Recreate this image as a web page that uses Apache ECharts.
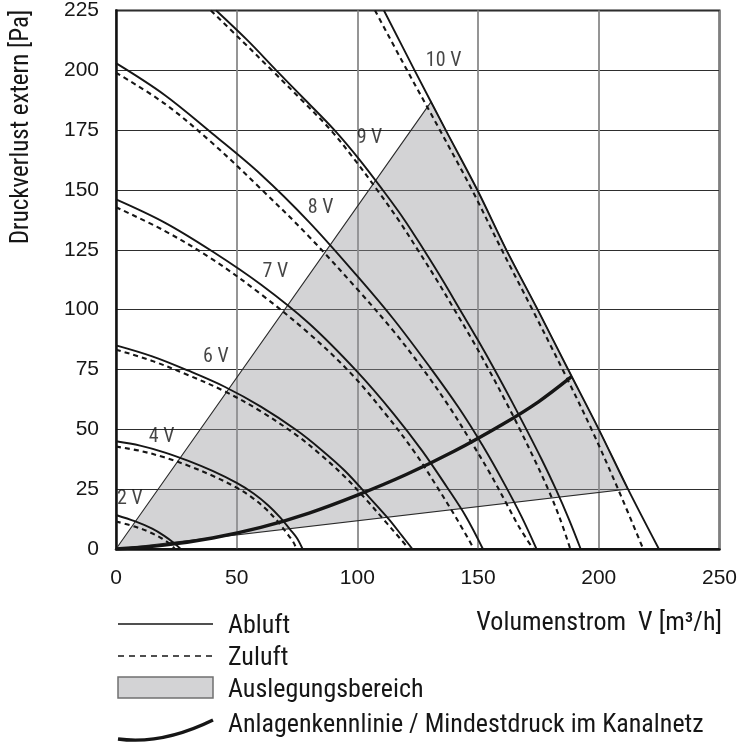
<!DOCTYPE html>
<html>
<head>
<meta charset="utf-8">
<script src="https://cdn.jsdelivr.net/npm/echarts@6/dist/echarts.min.js"></script>
<style>
html,body{margin:0;padding:0;background:#fff;}
#chart{width:740px;height:744px;}
</style>
</head>
<body>
<div id="chart"></div>
<script>
// ---------- data ----------
const xTicks = [0, 50, 100, 150, 200, 250];
const yTicks = [0, 25, 50, 75, 100, 125, 150, 175, 200, 225];

// fan curves [Volumenstrom m3/h, Druck Pa]
const abluft2V = [[0,14.2],[8,11.5],[15,8.5],[20,5.5],[24,2.5],[26.8,0]];
const zuluft2V = [[0,11.5],[8,9.3],[14,7],[19,4.4],[22.5,2],[24.4,0]];

const abluft4V = [[0,45],[10,43.2],[20,40.4],[30,36.8],[40,32.6],[50,27.6],[57,23.2],[63,18.3],[68,13.2],[72,8.3],[75,4.5],[77.3,0]];
const zuluft4V = [[0,42.8],[10,41],[20,38.3],[30,34.8],[40,30.6],[50,25.6],[56,21.8],[62,16.8],[67,11.5],[71,6.3],[73.5,2.8],[74.8,0]];

const abluft6V = [[0,85.1],[15,80.5],[30,74.5],[45,67.8],[60,59.5],[75,49.5],[85,41.5],[95,32.5],[105,21.5],[113,12.5],[118.5,5.5],[122.8,0]];
const zuluft6V = [[0,83.3],[15,78.6],[30,72.6],[45,65.9],[60,57.5],[75,47.4],[85,39.2],[95,30],[104,20.2],[112,11],[117.5,4.6],[121.4,0]];

const abluft7V = [[0,146.1],[20,136.5],[40,124.3],[60,110.5],[80,94.2],[100,74],[115,56.5],[127,40.8],[137,26],[145,13.5],[152,0]];
const zuluft7V = [[0,142.8],[20,133],[40,121],[60,106.5],[80,90],[97,73.7],[112,56],[124,40],[133,26],[141.5,12],[148.3,0]];

const abluft8V = [[0,203],[20,189.8],[40,173.5],[60,156.5],[80,136.6],[100,114],[115,96],[130,76],[142,59],[152,43],[161,27],[168,13.5],[174.2,0]];
const zuluft8V = [[0,199],[20,186.2],[40,169.5],[60,150.5],[80,130.5],[100,108.5],[115,91],[128,74],[138,59.5],[147,45],[155,31.5],[162,18.5],[167,9.2],[172.8,0]];

const abluft9V = [[41.5,225],[54.5,212.5],[66.4,200],[78.5,187.5],[90.5,175],[101,162.5],[110.5,150],[119.5,137.5],[127.5,125],[135.2,112.5],[142.5,100],[149.8,87.5],[156.8,75],[163.5,62.5],[170,50],[176.3,37.5],[182.2,25],[187.6,12.5],[192.5,0]];
const zuluft9V = [[39.3,225],[52,212.5],[64.6,200],[77,187.5],[89,175],[99,162.5],[108.2,150],[117,137.5],[125,125],[132.8,112.5],[140.2,100],[147.5,87.5],[154.4,75],[161,62.5],[167.3,50],[173.3,37.5],[179,25],[184,12.5],[188.2,0]];

const abluft10V = [[111,225],[123.7,200],[136.6,175],[149.7,150],[161.7,125],[174.7,100],[187.3,75],[200,50],[212.1,25],[224.9,0]];
const zuluft10V = [[107.3,225],[120.6,200],[134.2,175],[147.5,150],[159.8,125],[172.5,100],[185,75],[197,50],[208,25],[218.4,0]];

// Auslegungsbereich (design range polygon)
const auslegungsbereich = [[0,0],[130.5,186.8],[136.6,175],[149.7,150],[161.7,125],[174.7,100],[187.3,75],[200,50],[212.1,25]];

// Anlagenkennlinie / Mindestdruck im Kanalnetz
const anlagenkennlinie = [[0,0],[20,1.6],[40,4.6],[60,9],[80,15],[100,22.5],[120,31],[140,40.8],[160,52],[175,61.5],[188.7,72]];

// curve labels
const voltLabels = ['10 V','9 V','8 V','7 V','6 V','4 V','2 V'];
const voltLabelX = [135.7,105,84.8,66,41.4,18.9,5.7];
const voltLabelY = [204,171.6,142.4,115.7,80.2,46.6,21];

// texts
const yTitle = 'Druckverlust extern [Pa]';
const xTitle = 'Volumenstrom  V [m³/h]';
const legendTexts = ['Abluft','Zuluft','Auslegungsbereich','Anlagenkennlinie / Mindestdruck im Kanalnetz'];

// ---------- chart ----------
const NARROW = '"Liberation Sans Narrow","Roboto Condensed","DejaVu Sans Condensed",sans-serif';
const REG = '"Liberation Sans",Arial,sans-serif';
const INK = '#161616';

const solidPairs = [abluft2V,abluft4V,abluft6V,abluft7V,abluft8V,abluft9V,abluft10V];
const dashPairs = [zuluft2V,zuluft4V,zuluft6V,zuluft7V,zuluft8V,zuluft9V,zuluft10V];

const series = [];
series.push({
  type:'custom',
  coordinateSystem:'cartesian2d',
  silent:true,
  z:1,
  data:[[0,0]],
  renderItem:function(params, api){
    const pts = auslegungsbereich.map(p => api.coord(p));
    return {type:'polygon', shape:{points:pts},
      style:{fill:'rgba(150,150,156,0.42)', stroke:'#2a2a2a', lineWidth:1.1}};
  }
});
solidPairs.forEach(d => series.push({
  type:'line', data:d, showSymbol:false, smooth:0.35, silent:true, z:3,
  lineStyle:{color:INK, width:1.9}
}));
dashPairs.forEach(d => series.push({
  type:'line', data:d, showSymbol:false, smooth:0.35, silent:true, z:3,
  lineStyle:{color:INK, width:2.1, type:[5,4]}
}));
series.push({
  type:'line', data:anlagenkennlinie, showSymbol:false, smooth:0.35, silent:true, z:4,
  lineStyle:{color:INK, width:3.4}
});
series.push({
  type:'scatter', symbolSize:0, silent:true, z:5,
  data: voltLabels.map((t,i)=>({name:t, value:[voltLabelX[i], voltLabelY[i]]})),
  label:{show:true, position:'inside', formatter:'{b}', color:'#161616', fontSize:20, fontFamily:NARROW}
});

const legendY = [624, 656, 688, 723];
const graphic = [
  {type:'text', x:22, y:127, rotation:Math.PI/2,
   style:{text:yTitle, font:'25px '+NARROW, fill:'#161616', textAlign:'center', textVerticalAlign:'middle'}},
  {type:'text', x:722, y:623,
   style:{text:xTitle, font:'26px '+NARROW, fill:'#161616', textAlign:'right', textVerticalAlign:'middle'}},
  {type:'line', shape:{x1:118,y1:legendY[0],x2:213,y2:legendY[0]}, style:{stroke:INK, lineWidth:1.6}},
  {type:'line', shape:{x1:118,y1:legendY[1],x2:213,y2:legendY[1]}, style:{stroke:INK, lineWidth:1.6, lineDash:[6,5]}},
  {type:'rect', shape:{x:118,y:677,width:95,height:21}, style:{fill:'#d3d3d5', stroke:'#707070', lineWidth:1.5}},
  {type:'bezierCurve', shape:{x1:118,y1:739,cpx1:162,cpy1:745,x2:213,y2:720}, style:{stroke:INK, lineWidth:3.4, fill:null}}
];
legendTexts.forEach((t,i)=>graphic.push({type:'text', x:228, y:legendY[i]+2,
  style:{text:t, font:'26px '+NARROW, fill:'#161616', textAlign:'left', textVerticalAlign:'middle'}}));

const chart = echarts.init(document.getElementById('chart'), null, {renderer:'canvas'});
chart.setOption({
  animation:false,
  backgroundColor:'#fff',
  grid:{left:116, right:17, top:10, bottom:195, show:true, borderColor:'#222', borderWidth:2, backgroundColor:'transparent'},
  xAxis:{type:'value', min:xTicks[0], max:xTicks[xTicks.length-1], interval:50,
    axisLine:{show:true, lineStyle:{color:'#111', width:2.5}},
    axisTick:{show:false},
    axisLabel:{color:'#161616', fontSize:21, fontFamily:REG, margin:19,
      formatter:v => xTicks.includes(v) ? String(v) : ''},
    splitLine:{show:true, lineStyle:{color:'#8a8a8a', width:1.8}}},
  yAxis:{type:'value', min:yTicks[0], max:yTicks[yTicks.length-1], interval:25,
    axisLine:{show:true, lineStyle:{color:'#111', width:2.5}},
    axisTick:{show:false},
    axisLabel:{color:'#161616', fontSize:21, fontFamily:REG, margin:17,
      formatter:v => yTicks.includes(v) ? String(v) : ''},
    splitLine:{show:true, lineStyle:{color:'#2e2e2e', width:1.2}}},
  graphic:graphic,
  series:series
});
</script>
</body>
</html>
